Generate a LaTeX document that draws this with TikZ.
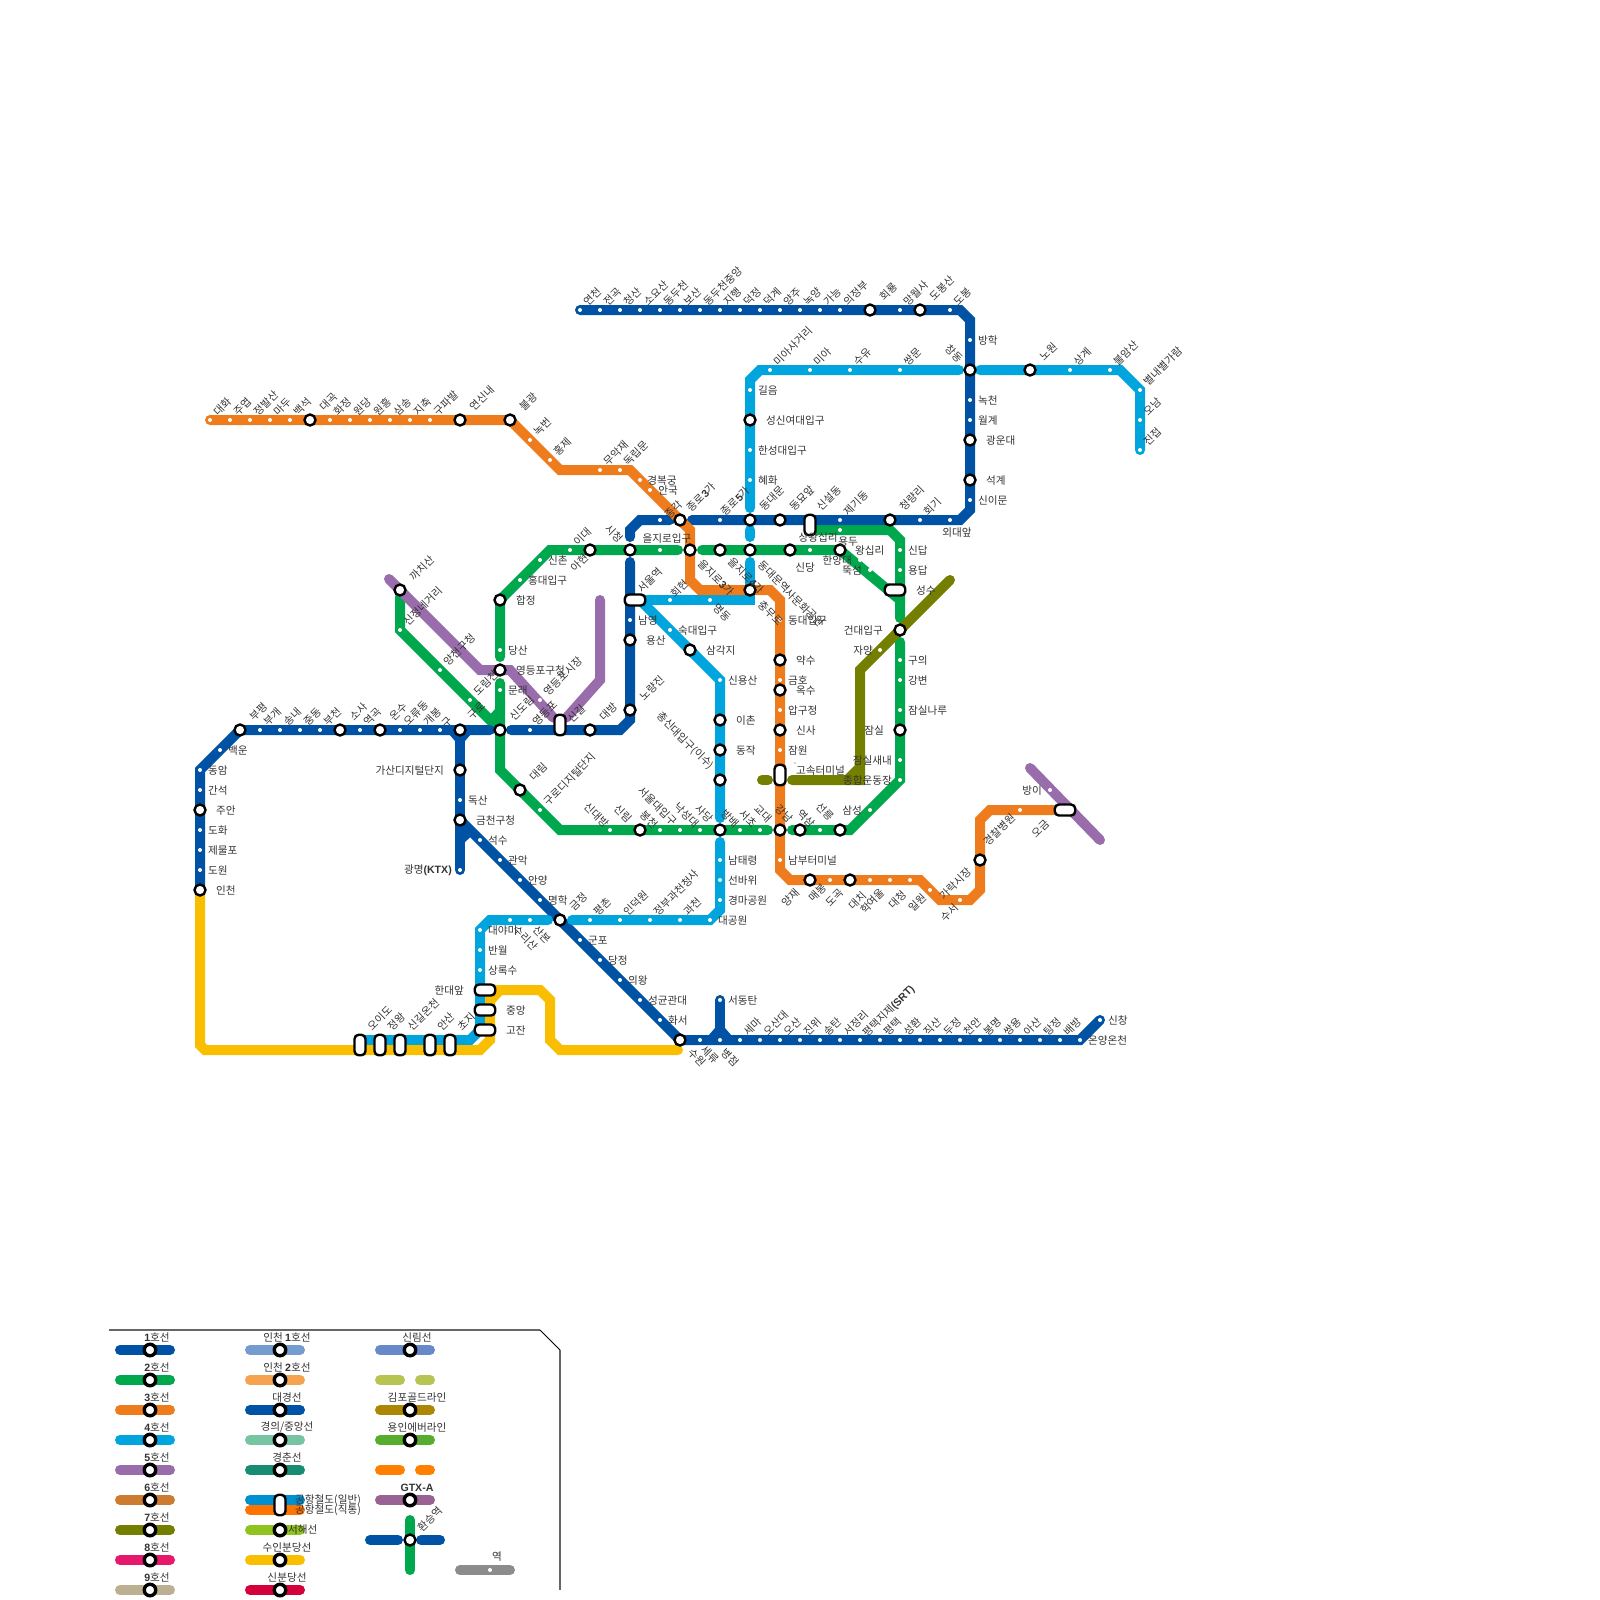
\documentclass[tikz,border=0pt]{standalone}
\usepackage{fontspec}
\usetikzlibrary{backgrounds}
\setmainfont{Noto Sans CJK KR}
\newfontfamily\latfont{Liberation Sans}
\newcommand{\bdg}[1]{{\latfont\bfseries #1}}
\definecolor{line1color}{HTML}{0052A4}
\definecolor{line2color}{HTML}{00A84D}
\definecolor{line3color}{HTML}{EF7C1C}
\definecolor{line4color}{HTML}{00A5DE}
\definecolor{line5color}{HTML}{996CAC}
\definecolor{line6color}{HTML}{CD7C2F}
\definecolor{line7color}{HTML}{747F00}
\definecolor{line8color}{HTML}{E6186C}
\definecolor{line9color}{HTML}{BDB092}
\definecolor{suincolor}{HTML}{FABE00}
\definecolor{incheonacolor}{HTML}{759CCE}
\definecolor{incheonbcolor}{HTML}{F5A251}
\definecolor{jungangcolor}{HTML}{77C4A3}
\definecolor{chuncolor}{HTML}{178C72}
\definecolor{airacolor}{HTML}{0090D2}
\definecolor{airbcolor}{HTML}{FF7300}
\definecolor{seohaecolor}{HTML}{8FC31F}
\definecolor{sinbuncolor}{HTML}{D4003B}
\definecolor{sillimcolor}{HTML}{6789CA}
\definecolor{uicolor}{HTML}{B7C452}
\definecolor{goldcolor}{HTML}{AD8605}
\definecolor{everlinecolor}{HTML}{56AD2D}
\definecolor{gyeonggangcolor}{HTML}{FF8000}
\definecolor{gtxcolor}{HTML}{9A6292}

\begin{document}
\begin{tikzpicture}[
    x=1pt, y=-1pt,
    metro/.style={line width=10pt, line cap=round, line join=miter},
    stopdot/.style={circle, fill=white, inner sep=0pt, minimum size=4pt},
    transfer/.style={circle, draw=black, fill=white, line width=2.4pt, inner sep=0pt, minimum size=11pt},
    legendmark/.style={circle, draw=black, fill=white, line width=3.4pt, inner sep=0pt, minimum size=11.5pt},
    capsuleh/.style={rectangle, draw=black, fill=white, line width=2.4pt, rounded corners=4.2pt, inner sep=0pt, minimum width=20.5pt, minimum height=11pt},
    capsulev/.style={capsuleh, minimum width=11pt, minimum height=20.5pt},
    tagtext/.style={inner sep=0pt, text=black!80, font=\fontsize{10.6}{12}\selectfont},
    tagup/.style={tagtext, anchor=west, xshift=5.5pt, yshift=6.5pt, rotate=45},
    tagupx/.style={tagtext, anchor=west, xshift=11.5pt, yshift=11pt, rotate=45},
    tagright/.style={tagtext, anchor=west, xshift=8pt, yshift=-0.7pt},
    tagrightx/.style={tagtext, anchor=west, xshift=16pt, yshift=-0.7pt}
]
\useasboundingbox (0,0) rectangle (1600,1600);

% Stops with a slanted name
\foreach \t/\x/\y in {연천/580/310,전곡/600/310,청산/620/310,소요산/640/310,동두천/660/310,보산/680/310,동두천중앙/700/310,지행/720/310,덕정/740/310,덕계/760/310,양주/780/310,녹양/800/310,가능/820/310,의정부/840/310,망월사/900/310,도봉/950/310,
    대화/210/420,주엽/230/420,정발산/250/420,마두/270/420,백석/290/420,화정/330/420,원당/350/420,원흥/370/420,삼송/390/420,지축/410/420,구파발/430/420,녹번/530/440,홍제/550/460,무악재/600/470,독립문/620/470,
    회기/920/520,제기동/840/520,미아사거리/770/370,미아/810/370,수유/850/370,쌍문/900/370,상계/1070/370,불암산/1110/370,별내별가람/1140/390,오남/1140/420,진접/1140/450,
    부개/260/730,송내/280/730,중동/300/730,부천/320/730,역곡/360/730,오류동/400/730,개봉/420/730,이대/570/550,
    평촌/590/920,인덕원/620/920,정부과천청사/650/920,과천/680/920,세마/740/1040,오산대/760/1040,오산/780/1040,진위/800/1040,송탄/820/1040,서정리/840/1040,평택/880/1040,성환/900/1040,직산/920/1040,두정/940/1040,천안/960/1040,봉명/980/1040,쌍용/1000/1040,아산/1020/1040,탕정/1040/1040,배방/1060/1040,
    구로디지털단지/540/810,신정네거리/400/630,양천구청/440/670,도림천/470/700,영등포시장/540/700}{
    \coordinate (\t) at (\x,\y);
    \node[stopdot] (\t-m) at (\t) {};
    \node[tagup] (\t-t) at (\t) {\t};
}

% Transfers with a slanted name
\foreach \t/\x/\y in {회룡/870/310,도봉산/920/310,대곡/310/420,연신내/460/420,불광/510/420,동대문/750/520,동묘앞/780/520,청량리/890/520,노원/1030/370,
    부평/240/730,소사/340/730,온수/380/730,대방/590/730,신도림/500/730,금정/560/920,까치산/400/590,노량진/630/710,대림/520/790}{
    \coordinate (\t) at (\x,\y);
    \node[transfer] (\t-m) at (\t) {};
    \node[tagupx] (\t-t) at (\t) {\t};
}

% Stops with a level name
\foreach \t/\x/\y in {방학/970/340,녹천/970/400,월계/970/420,신이문/970/500,길음/750/390,한성대입구/750/450,혜화/750/480,당산/500/650,문래/500/690,신촌/540/560,홍대입구/520/580,남영/630/620,숙대입구/670/630,신용산/720/680,동대입구/780/620,금호/780/680,압구정/780/710,잠원/780/750,남부터미널/780/860,남태령/720/860,선바위/720/880,경마공원/720/900,대공원/710/920,신답/900/550,용답/900/570,구의/900/660,강변/900/680,잠실나루/900/710,
    백운/220/750,동암/200/770,간석/200/790,도화/200/830,제물포/200/850,도원/200/870,독산/460/800,석수/480/840,관악/500/860,안양/520/880,명학/540/900,군포/580/940,당정/600/960,의왕/620/980,성균관대/640/1000,화서/660/1020,대야미/480/930,반월/480/950,상록수/480/970,서동탄/720/1000,신창/1100/1020,온양온천/1080/1040}{
    \coordinate (\t) at (\x,\y);
    \node[stopdot] (\t-m) at (\t) {};
    \node[tagright] (\t-t) at (\t) {\t};
}

% Transfers with a level name
\foreach \t/\x/\y in {광운대/970/440,석계/970/480,성신여대입구/750/420,합정/500/600,영등포구청/500/670,용산/630/640,삼각지/690/650,약수/780/660,옥수/780/690,신사/780/730,이촌/720/720,동작/720/750,주안/200/810,인천/200/890,금천구청/460/820}{
    \coordinate (\t) at (\x,\y);
    \node[transfer] (\t-m) at (\t) {};
    \node[tagrightx] (\t-t) at (\t) {\t};
}

% Marks whose names are placed by hand
\foreach \t/\x/\y in {신대방/610/830,봉천/660/830,서울대입구/680/830,낙성대/700/830,방배/740/830,서초/760/830,선릉/820/830,세류/700/1040,병점/720/1040,수리산/510/920,산본/530/920,을지로입구/660/550,종각/660/520,종로5가/720/520,경복궁/640/480,안국/650/490,한양대/860/560,뚝섬/870/570,자양/880/650,잠실새내/900/760,종합운동장/900/780,삼성/870/810,매봉/830/880,대치/870/880,학여울/890/880,대청/910/880,일원/930/890,수서/960/900,상왕십리/810/550,용두/840/530,방이/1050/790,영등포/530/730,경찰병원/1020/810,명동/710/600,회현/670/600,외대앞/950/520,구일/440/730,평택지제/860/1040,광명/460/870}{
    \coordinate (\t) at (\x,\y);
    \node[stopdot] (\t-m) at (\t) {};
}
\foreach \t/\x/\y in {시청/630/550,종로3가/680/520,을지로3가/690/550,을지로4가/720/550,동대문역사문화공원/750/550,신당/790/550,왕십리/840/550,충무로/750/590,구로/460/730,아현/590/550,창동/970/370,사당/720/830,총신대입구/720/780,강남/780/830,역삼/800/830,삼성교/840/830,신림/640/830,양재/810/880,도곡/850/880,가락시장/980/860,건대입구/900/630,잠실/900/730,가산디지털단지/460/770,수원/680/1040}{
    \coordinate (\t) at (\x,\y);
    \node[transfer] (\t-m) at (\t) {};
}

% Long transfers
\node[capsuleh] (서울역) at (635,600) {};
\node[capsuleh] (성수) at (895,590) {};
\node[capsuleh] (오금) at (1065,810) {};
\node[capsuleh] (한대앞) at (485,990) {};
\node[capsuleh] (중앙) at (485,1010) {};
\node[capsuleh] (고잔) at (485,1030) {};
\node[capsulev] (신길) at (560,725) {};
\node[capsulev] (신설동) at (810,525) {};
\node[capsulev] (고속터미널) at (780,775) {};
\node[capsulev] (오이도) at (360,1045) {};
\node[capsulev] (정왕) at (380,1045) {};
\node[capsulev] (신길온천) at (400,1045) {};
\node[capsulev] (안산) at (430,1045) {};
\node[capsulev] (초지) at (450,1045) {};

% Names placed by hand
\foreach \t/\x/\y/\r/\a in {창동/961/360/-45/east,시청/621/540/-45/east,아현/587/555/45/east,외대앞/957/532/0/center,을지로입구/667/538/0/center,상왕십리/818/537/0/center,용두/848/541/0/center,왕십리/855/550/0/west,신당/805/567/0/center,한양대/852/560/0/east,뚝섬/862/570/0/east,경복궁/662/480/0/center,안국/668/490/0/center,종각/674/509/45/center,자양/873/650/0/east,건대입구/883/630/0/east,잠실/884/730/0/east,잠실새내/892/760/0/east,종합운동장/892/780/0/east,삼성/862/810/0/east,가산디지털단지/444/770/0/east,한대앞/464/990/0/east,중앙/506/1010/0/west,고잔/506/1030/0/west,성수/916/590/0/west,고속터미널/796/770/0/west,방이/1042/790/0/east,서울역/640/590/45/west,신설동/819/508/45/west,회현/673/595/45/west,명동/715/605/-45/west,충무로/760/602/-45/west,동대문역사문화공원/760/562/-45/west,
    신대방/607/825/-45/east,신림/630/820/-45/east,봉천/656/826/-45/east,서울대입구/675/823/-45/east,낙성대/697/825/-45/east,사당/711/820/-45/east,방배/737/825/-45/east,서초/755/825/-45/east,교대/770/820/-45/east,강남/791/820/-45/east,역삼/813/825/-45/east,선릉/832/818/-45/east,
    수리산/515/927/-45/west,산본/535/927/-45/west,오이도/370/1028/45/west,정왕/390/1028/45/west,신길온천/410/1028/45/west,안산/439/1028/45/west,초지/460/1028/45/west,수원/690/1050/-45/west,세류/703/1047/-45/west,병점/723/1050/-45/west,오금/1034/835/45/west,신길/570/720/45/west,영등포/535/723/45/west,구로/470/717/45/west,구/444/725/45/west,
    양재/798/890/45/east,매봉/825/885/45/east,도곡/842/890/45/east,대치/865/893/45/east,학여울/883/890/45/east,대청/905/892/45/east,일원/925/895/45/east,수서/957/905/45/east,가락시장/942/897/45/west,경찰병원/986/843/45/west}{
    \node[tagtext, yshift=-0.7pt, rotate=\r, anchor=\a] (\t-t) at (\x,\y) {\t};
}
\node[tagtext, rotate=45, anchor=west] (jongno3-t) at (689,510) {종로\bdg{3}가};
\node[tagtext, rotate=45, anchor=west] (jongno5-t) at (723,514) {종로\bdg{5}가};
\node[tagtext, rotate=-45, anchor=west] (euljiro3-t) at (700,562) {을지로\bdg{3}가};
\node[tagtext, rotate=-45, anchor=west] (euljiro4-t) at (730,560) {을지로\bdg{4}가};
\node[tagtext, rotate=-45, anchor=east] (chongsin-t) at (712,768) {총신대입구(이수)};
\node[tagtext, anchor=east] (gwangmyeong-t) at (452,870) {광명\bdg{(KTX)}};
\node[tagtext, rotate=45, anchor=west] (jije-t) at (865,1035) {평택지제\bdg{(SRT)}};
\fill[black!70] (795,763) circle (0.7);
\fill[black!70] (906,592) circle (0.7);

% Lines
\begin{scope}[on background layer]
% Line 2
\draw[metro, line2color] (500,657) -- (합정) -- (550,550) -- (678,550);
\draw[metro, line2color] (702,550) -- (왕십리) -- (900,600);
\draw[metro, line2color] (817,530) -- (890,530) -- (900,540) -- (900,618);
\draw[metro, line2color] (900,642) -- (종합운동장) -- (850,830) -- (792,830);
\draw[metro, line2color] (768,830) -- (560,830) -- (500,770) -- (500,683);
\draw[metro, line2color] (400,597) -- (신정네거리) -- (신도림);
\fill[line2color] (491.5,713) -- (495.5,708.5) -- (495.5,722) -- (485,718) -- cycle;
% Line 1
\draw[metro, line1color] (연천) -- (960,310) -- (970,320) -- (970,510) -- (960,520) -- (692,520);
\draw[metro, line1color] (670,520) -- (640,520) -- (630,530) -- (630,537);
\draw[metro, line1color] (630,562) -- (630,720) -- (620,730) -- (511,730);
\draw[metro, line1color] (490,730) -- (부평) -- (동암) -- (200,885);
\draw[metro, line1color] (구로) -- (광명);
\fill[line1color] (449,734) -- (471,734) -- (465,741) -- (455,741) -- cycle;
\draw[metro, line1color] (금천구청) -- (수원) -- (온양온천) -- (신창);
\fill[line1color] (465,828) -- (465,842) -- (476,832) -- cycle;
\draw[metro, line1color] (서동탄) -- (병점);
\fill[line1color] (708,1036) -- (732,1036) -- (725,1028) -- (715,1028) -- cycle;
% Line 4
\draw[metro, line4color] (진접) -- (별내별가람) -- (1120,370) -- (980,370);
\draw[metro, line4color] (959,370) -- (760,370) -- (750,380) -- (750,508);
\draw[metro, line4color] (750,530) -- (750,537);
\draw[metro, line4color] (750,562) -- (750,600) -- (640,600);
\draw[metro, line4color] (640,600) -- (신용산) -- (720,818);
\draw[metro, line4color] (720,842) -- (720,910) -- (대공원) -- (572,920);
\draw[metro, line4color] (548,920) -- (490,920) -- (480,930) -- (480,1030) -- (470,1040) -- (360,1040);
% Line 5
\draw[metro, line5color] (389,579) -- (480,670) -- (510,670) -- (신길);
\draw[metro, line5color] (600,600) -- (600,680) -- (신길);
\draw[metro, line5color] (1030,768) -- (1100,840);
% Line 7
\draw[metro, line7color] (762,780) -- (768,780);
\draw[metro, line7color] (792,780) -- (860,780) -- (860,670) -- (950,580);
\fill[line7color] (845,775) -- (855,765) -- (855,775) -- cycle;
% Suin-Bundang
\draw[metro, suincolor] (200,895) -- (200,1045) -- (205,1050) -- (480,1050) -- (490,1040) -- (490,990) -- (540,990) -- (550,1000) -- (550,1040) -- (560,1050) -- (678,1050);
\fill[suincolor] (494,1004) -- (503,994) -- (494,994) -- cycle;
% Line 3
\draw[metro, line3color] (대화) -- (불광) -- (560,470) -- (630,470) -- (690,530) -- (690,580) -- (700,590) -- (770,590) -- (780,600) -- (780,870) -- (790,880) -- (920,880) -- (940,900) -- (970,900) -- (980,890) -- (980,820) -- (990,810) -- (오금);
\end{scope}

% Legend frame
\draw[line width=2pt, black!60] (109,1330) -- (540,1330);
\draw[line width=0.8pt, black] (540,1330) -- (560,1350);
\draw[line width=2pt, black!60] (560,1350) -- (560,1590);

% Legend, first and second column
\foreach \t/\y/\c in {{\bdg{1}호선}/1350/line1color,{\bdg{2}호선}/1380/line2color,{\bdg{3}호선}/1410/line3color,{\bdg{4}호선}/1440/line4color,{\bdg{5}호선}/1470/line5color,{\bdg{6}호선}/1500/line6color,{\bdg{7}호선}/1530/line7color,{\bdg{8}호선}/1560/line8color,{\bdg{9}호선}/1590/line9color}{
    \draw[metro, \c] (120,\y) -- (170,\y);
    \node[legendmark] (a\y) at (150,\y) {};
    \node[tagtext] (a\y-t) at (157,\y-12.5) {\t};
}
\foreach \t/\y/\c in {{인천 \bdg{1}호선}/1350/incheonacolor,{인천 \bdg{2}호선}/1380/incheonbcolor,대경선/1410/line1color,경의{/}중앙선/1440/jungangcolor,경춘선/1470/chuncolor,수인분당선/1560/suincolor,신분당선/1590/sinbuncolor}{
    \draw[metro, \c] (250,\y) -- (300,\y);
    \node[legendmark] (b\y) at (280,\y) {};
    \node[tagtext] (b\y-t) at (287,\y-12.5) {\t};
}
\draw[metro, airacolor] (250,1500) -- (300,1500);
\draw[metro, airbcolor] (250,1510) -- (300,1510);
\node[capsulev] (airport) at (280,1505) {};
\node[tagtext, anchor=west] (airport-a) at (295,1500) {공항철도(일반)};
\node[tagtext, anchor=west] (airport-b) at (295,1510) {공항철도(직통)};
\draw[metro, seohaecolor] (250,1530) -- (300,1530);
\node[legendmark] (b1530) at (280,1530) {};
\node[tagtext, anchor=west] (b1530-t) at (288,1530) {서해선};

% Legend, third column
\foreach \t/\y/\c in {신림선/1350/sillimcolor,김포골드라인/1410/goldcolor,용인에버라인/1440/everlinecolor,{\bdg{GTX-A}}/1500/gtxcolor}{
    \draw[metro, \c] (380,\y) -- (430,\y);
    \node[legendmark] (c\y) at (410,\y) {};
    \node[tagtext] (c\y-t) at (417,\y-12.5) {\t};
}
\draw[metro, uicolor] (380,1380) -- (400,1380);
\draw[metro, uicolor] (420,1380) -- (430,1380);
\draw[metro, gyeonggangcolor] (380,1470) -- (400,1470);
\draw[metro, gyeonggangcolor] (420,1470) -- (430,1470);

% Legend, transfer and stop
\node[transfer] (swap) at (410,1540) {};
\node[tagtext, rotate=45, anchor=west] (swap-t) at (420,1530) {환승역};
\begin{scope}[on background layer]
\draw[metro, line2color] (410,1520) -- (410,1570);
\draw[metro, line1color] (370,1540) -- (398,1540);
\draw[metro, line1color] (421,1540) -- (440,1540);
\end{scope}
\draw[metro, black!45] (460,1570) -- (510,1570);
\node[stopdot] (plain) at (490,1570) {};
\node[tagtext] (plain-t) at (497,1557) {역};

\end{tikzpicture}
\end{document}
